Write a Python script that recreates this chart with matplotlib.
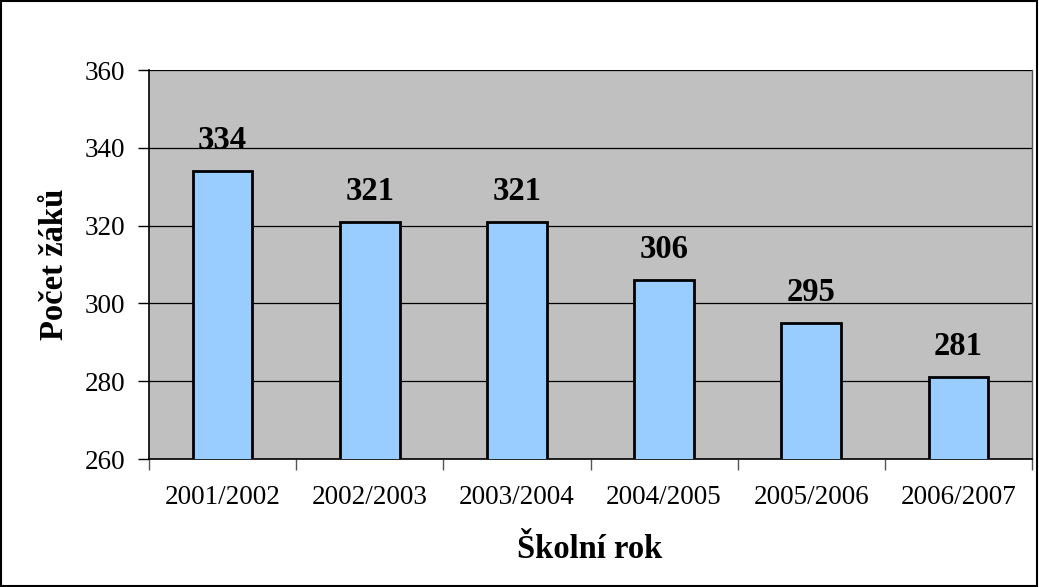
import matplotlib.pyplot as plt
from matplotlib.patches import Rectangle

plt.rcParams['font.family'] = ['Liberation Serif', 'DejaVu Serif']

# data
roky = ['2001/2002', '2002/2003', '2003/2004', '2004/2005', '2005/2006', '2006/2007']
pocty = [334, 321, 321, 306, 295, 281]
y_ticks = [260, 280, 300, 320, 340, 360]

fig = plt.figure(figsize=(10.39, 5.87), dpi=100)
ax = fig.add_axes([149 / 1039, 1 - 459 / 587, (1032 - 149) / 1039, (459 - 70) / 587])
ax.set_facecolor('#C0C0C0')

x = range(len(roky))
ax.bar(x, pocty, width=0.405, color='#99CCFF', edgecolor='black', linewidth=2, zorder=3)

# popisky hodnot nad sloupci
for i, v in zip(x, pocty):
    ax.annotate(str(v), (i, v), xytext=(0, 15.8), textcoords='offset points',
                ha='center', va='baseline', fontsize=23.5, fontweight='bold')

ax.set_ylim(260, 360)
ax.set_xlim(-0.5, len(roky) - 0.5)
ax.set_yticks(y_ticks)
ax.set_yticklabels([str(t) for t in y_ticks], fontsize=19.5)
ax.grid(axis='y', color='black', linewidth=0.9, zorder=1)

# popisky kategorii uprostred, ticky na hranicich
ax.set_xticks([i - 0.5 for i in range(len(roky) + 1)])
ax.set_xticklabels([])
ax.set_xticks(list(x), minor=True)
ax.set_xticklabels(roky, minor=True, fontsize=19.5)
ax.tick_params(axis='x', which='major', length=8, width=1, color='#555555', direction='out')
ax.tick_params(axis='x', which='minor', length=0, pad=19)
ax.tick_params(axis='y', length=8, width=1, direction='out', pad=9)

for s in ['left', 'bottom']:
    ax.spines[s].set_linewidth(1.2)
    ax.spines[s].set_color('black')
ax.spines['top'].set_visible(False)
ax.spines['right'].set_color('#555555')
ax.spines['right'].set_linewidth(1)

fig.text(590 / 1039, 1 - 550 / 587, 'Školní rok', ha='center', va='center',
         fontsize=23.5, fontweight='bold')
fig.text(55 / 1039, 1 - 264 / 587, 'Počet žáků', ha='center', va='center',
         rotation=90, fontsize=23.5, fontweight='bold')

# ramecek kolem celeho obrazku
fig.patches.append(Rectangle((0.001, 0.001), 0.997, 0.997, transform=fig.transFigure,
                             fill=False, edgecolor='black', linewidth=1.5))

fig.savefig('out.png', dpi=100)
